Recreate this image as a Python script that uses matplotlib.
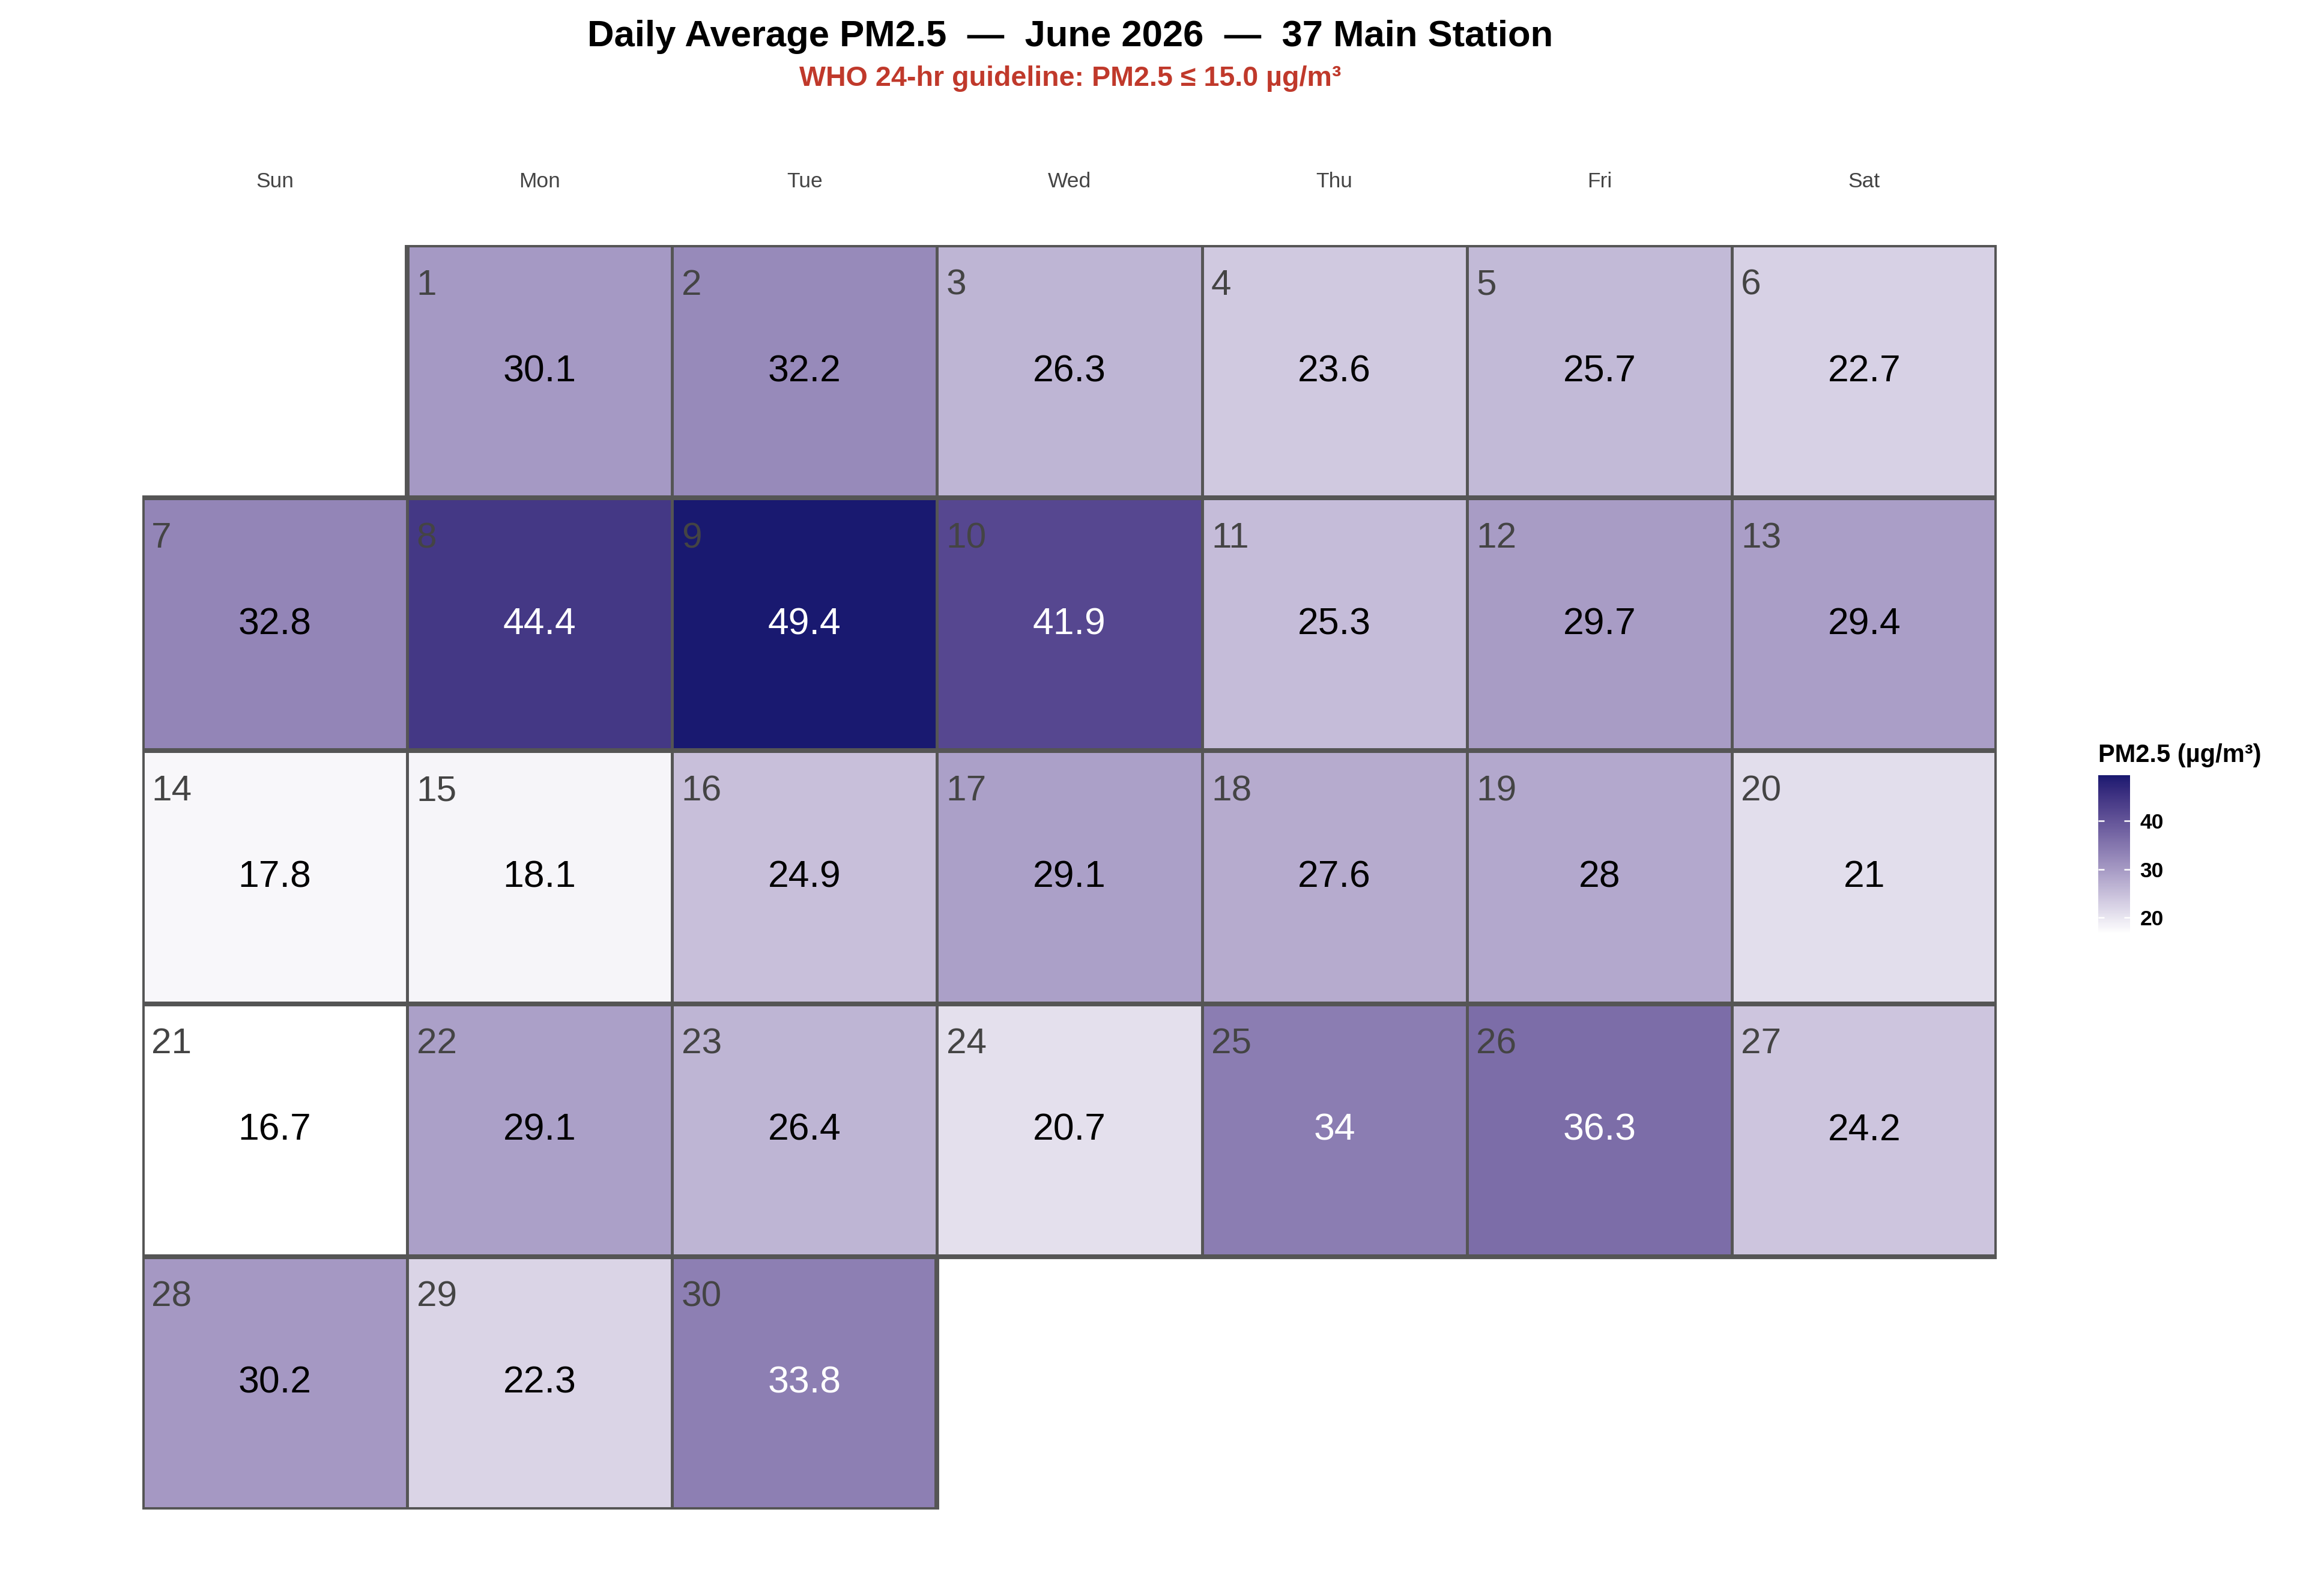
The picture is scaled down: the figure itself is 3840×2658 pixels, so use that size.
import datetime as dt

import numpy as np
import matplotlib
matplotlib.use("Agg")
import matplotlib.pyplot as plt
from matplotlib.colors import ListedColormap, Normalize
from matplotlib.patches import Rectangle

plt.rcParams['font.family'] = ['Liberation Sans', 'DejaVu Sans']

# Data
year, month = 2026, 6
days = list(range(1, 31))
pm25 = [30.1, 32.2, 26.3, 23.6, 25.7, 22.7, 32.8, 44.4, 49.4, 41.9,
        25.3, 29.7, 29.4, 17.8, 18.1, 24.9, 29.1, 27.6, 28.0, 21.0,
        16.7, 29.1, 26.4, 20.7, 34.0, 36.3, 24.2, 30.2, 22.3, 33.8]
weekdays = ["Sun", "Mon", "Tue", "Wed", "Thu", "Fri", "Sat"]
cbar_ticks = [20, 30, 40]
title = "Daily Average PM2.5  \u2014  June 2026  \u2014  37 Main Station"
subtitle = "WHO 24-hr guideline: PM2.5 \u2264 15.0 \u00b5g/m\u00b3"


# white -> midnightblue gradient interpolated in Lab (ggplot style)
def srgb_to_lab(rgb):
    c = np.asarray(rgb, float)
    c = np.where(c > 0.04045, ((c + 0.055) / 1.055) ** 2.4, c / 12.92)
    m = np.array([[0.4124, 0.3576, 0.1805],
                  [0.2126, 0.7152, 0.0722],
                  [0.0193, 0.1192, 0.9505]])
    xyz = m @ c / np.array([0.95047, 1.0, 1.08883])
    f = np.where(xyz > 0.008856, np.cbrt(xyz), 7.787 * xyz + 16 / 116)
    return np.array([116 * f[1] - 16, 500 * (f[0] - f[1]), 200 * (f[1] - f[2])])


def lab_to_srgb(lab):
    L, a, b = lab
    fy = (L + 16) / 116
    fx = fy + a / 500
    fz = fy - b / 200
    f = np.array([fx, fy, fz])
    xyz = np.where(f ** 3 > 0.008856, f ** 3, (f - 16 / 116) / 7.787)
    xyz = xyz * np.array([0.95047, 1.0, 1.08883])
    minv = np.array([[3.2406, -1.5372, -0.4986],
                     [-0.9689, 1.8758, 0.0415],
                     [0.0557, -0.2040, 1.0570]])
    c = minv @ xyz
    c = np.where(c > 0.0031308, 1.055 * np.clip(c, 0, None) ** (1 / 2.4) - 0.055, 12.92 * c)
    return np.clip(c, 0, 1)


lab_lo = srgb_to_lab([1, 1, 1])
lab_hi = srgb_to_lab([0x19 / 255, 0x19 / 255, 0x70 / 255])
cmap = ListedColormap([lab_to_srgb(lab_lo + t * (lab_hi - lab_lo)) for t in np.linspace(0, 1, 256)])
norm = Normalize(vmin=min(pm25), vmax=max(pm25))

# build calendar grid
first_col = (dt.date(year, month, 1).weekday() + 1) % 7
n_rows = (first_col + len(days) + 6) // 7
grid = np.full((n_rows, 7), np.nan)
pos = {}
for d, v in zip(days, pm25):
    k = first_col + d - 1
    r, c = divmod(k, 7)
    grid[r, c] = v
    pos[d] = (r, c)

fig = plt.figure(figsize=(12.8, 8.86), dpi=300)
ax = fig.add_axes([0.0617, 0.0542, 0.8042, 0.7923])

ax.pcolormesh(np.arange(8), np.arange(n_rows + 1), np.ma.masked_invalid(grid),
              cmap=cmap, norm=norm, linewidth=0)

# cell borders (only days of the month)
for d in days:
    r, c = pos[d]
    ax.add_patch(Rectangle((c, r), 1, 1, fill=False, edgecolor="#555555",
                           linewidth=1.1, zorder=2))

# week outlines
for r in range(n_rows):
    cols = [c for c in range(7) if not np.isnan(grid[r, c])]
    ax.add_patch(Rectangle((min(cols), r), max(cols) - min(cols) + 1, 1,
                           fill=False, edgecolor="#555555", linewidth=1.9, zorder=3))

for d, v in zip(days, pm25):
    r, c = pos[d]
    ax.text(c + 0.035, r + 0.16, str(d), ha="left", va="center",
            fontsize=14.5, color="#444444", zorder=4)
    ax.text(c + 0.5, r + 0.5, f"{v:g}", ha="center", va="center",
            fontsize=15, color="white" if v > 33 else "black", zorder=4)

for c, name in enumerate(weekdays):
    ax.text(c + 0.5, -0.25, name, ha="center", va="center",
            fontsize=8.5, color="#444444", clip_on=False)

ax.set_xlim(0, 7)
ax.set_ylim(n_rows, 0)
ax.axis("off")

fig.text(0.464, 0.9767, title, ha="center", va="center",
         fontsize=14.8, fontweight="bold", color="black")
fig.text(0.464, 0.9507, subtitle, ha="center", va="center",
         fontsize=11.2, fontweight="bold", color="#C0392B")

# colorbar
cax = fig.add_axes([0.9099, 0.415, 0.0138, 0.0993])
sm = plt.cm.ScalarMappable(norm=norm, cmap=cmap)
cb = fig.colorbar(sm, cax=cax, ticks=cbar_ticks)
cb.outline.set_visible(False)
cax.tick_params(axis="y", direction="in", color="white", length=2.5, width=0.6,
                left=True, right=True, labelsize=8.5, pad=4)
for lab in cax.get_yticklabels():
    lab.set_fontweight("bold")
fig.text(0.9099, 0.5267, "PM2.5 (\u00b5g/m\u00b3)", ha="left", va="center",
         fontsize=10, fontweight="bold")

fig.savefig("out.png", dpi=300, facecolor="white")
